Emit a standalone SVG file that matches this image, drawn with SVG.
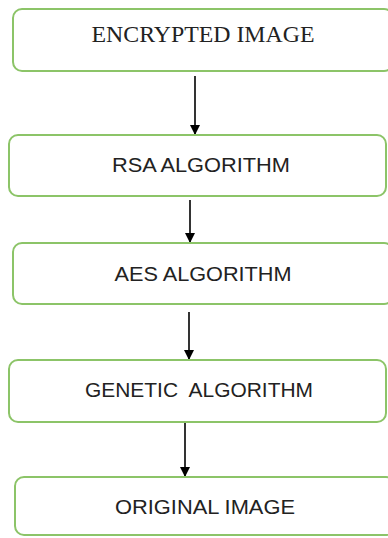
<svg xmlns="http://www.w3.org/2000/svg" width="388" height="538" viewBox="0 0 388 538">
<defs>
<style>
.box{fill:#ffffff;stroke:#8cc468;stroke-width:2}
.serif{font-family:"Liberation Serif","Times New Roman",serif;font-size:24px;fill:#222}
.sans{font-family:"Liberation Sans",Arial,sans-serif;font-size:21px;fill:#222}
.conn{stroke:#000;stroke-width:1.6;fill:none}
</style>
<marker id="arr" viewBox="0 0 10 10" refX="10" refY="5" markerWidth="10" markerHeight="10" markerUnits="userSpaceOnUse" orient="auto">
<path d="M0,0 L10,5 L0,10 Z" fill="#000"/>
</marker>
</defs>
<rect width="388" height="538" fill="#ffffff"/>
<g id="connectors">
<line class="conn" x1="195" y1="76" x2="195" y2="135" marker-end="url(#arr)"/>
<line class="conn" x1="190" y1="200" x2="190" y2="243" marker-end="url(#arr)"/>
<line class="conn" x1="189" y1="312" x2="189" y2="360" marker-end="url(#arr)"/>
<line class="conn" x1="185" y1="422" x2="185" y2="477" marker-end="url(#arr)"/>
</g>
<g id="n1">
<rect class="box" x="13" y="9" width="380" height="62" rx="9"/>
<text class="serif" x="203" y="42" text-anchor="middle" textLength="223" lengthAdjust="spacingAndGlyphs">ENCRYPTED IMAGE</text>
</g>
<g id="n2">
<rect class="box" x="9" y="135" width="377" height="61" rx="9"/>
<text class="sans" x="201" y="172" text-anchor="middle" textLength="178" lengthAdjust="spacingAndGlyphs">RSA ALGORITHM</text>
</g>
<g id="n3">
<rect class="box" x="13" y="243" width="380" height="61" rx="9"/>
<text class="sans" x="203" y="281" text-anchor="middle" textLength="177" lengthAdjust="spacingAndGlyphs">AES ALGORITHM</text>
</g>
<g id="n4">
<rect class="box" x="9" y="360" width="377" height="62" rx="9"/>
<text class="sans" x="199" y="397" text-anchor="middle" textLength="228" lengthAdjust="spacingAndGlyphs" xml:space="preserve">GENETIC  ALGORITHM</text>
</g>
<g id="n5">
<rect class="box" x="15" y="477" width="380" height="58" rx="9"/>
<text class="sans" x="205" y="514" text-anchor="middle" textLength="180" lengthAdjust="spacingAndGlyphs">ORIGINAL IMAGE</text>
</g>
</svg>
